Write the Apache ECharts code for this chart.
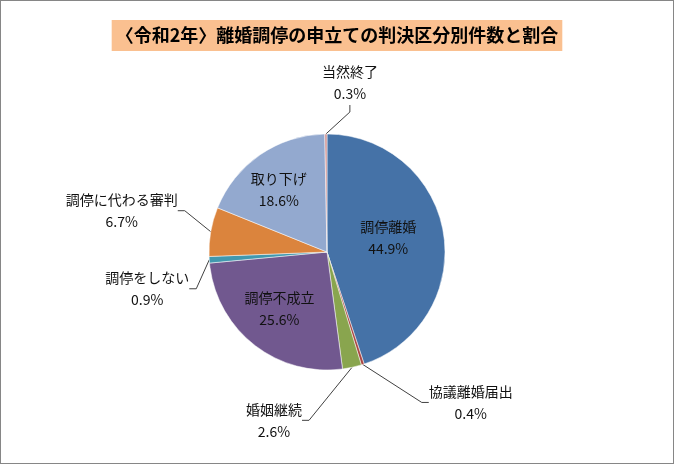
<!DOCTYPE html>
<html>
<head>
<meta charset="utf-8">
<script src="https://cdn.jsdelivr.net/npm/echarts@6/dist/echarts.min.js"></script>
<style>
  body { margin: 0; background: #fff; }
  #chart-root { width: 672px; height: 462px; border: 1px solid #868686; }
</style>
</head>
<body>
<div id="chart-root"></div>
<script>
// 判決区分 (12時から時計回り)
const categories = ['調停離婚', '協議離婚届出', '婚姻継続', '調停不成立', '調停をしない', '調停に代わる審判', '取り下げ', '当然終了']
// 割合 (%)
const shares = [44.9, 0.4, 2.6, 25.6, 0.9, 6.7, 18.6, 0.3]
const sliceColors = ['#4572A7', '#AA4643', '#89A54E', '#71588F', '#4198AF', '#DB843D', '#93A9CF', '#D19392']
const insideNames = ['調停離婚', '調停不成立', '取り下げ']

// ラベル位置の微調整 (外側: 扇形の縁からのずれ / 内側: 既定位置からのずれ)
const labelShift = {
  0: [0, -4],
  1: [108, 38],
  2: [-78, 53],
  3: [-9, 8],
  4: [-62, 29],
  5: [-89, -21],
  6: [-13, -11],
  7: [24, -51]
}

let chart = echarts.init(document.getElementById('chart-root'))

let option = {
  animation: false,
  title: {
    text: '〈令和2年〉離婚調停の申立ての判決区分別件数と割合',
    left: 'center',
    top: 19,
    padding: [5, 4],
    backgroundColor: '#FAC090',
    textStyle: {
      color: '#000',
      fontSize: 18,
      fontWeight: 'bold',
      lineHeight: 21,
      fontFamily: '"Noto Sans CJK JP", sans-serif'
    }
  },
  series: [
    {
      type: 'pie',
      center: [326, 251],
      radius: 118,
      startAngle: 90,
      clockwise: true,
      avoidLabelOverlap: false,
      itemStyle: {
        borderColor: '#fff',
        borderWidth: 0.5
      },
      label: {
        position: 'outside',
        color: '#111',
        fontSize: 14,
        lineHeight: 22,
        fontFamily: '"Noto Sans CJK JP", sans-serif',
        formatter: p => `${p.name}\n${p.value.toFixed(1)}%`
      },
      labelLine: {
        show: true,
        length: 15,
        length2: 7,
        lineStyle: {
          color: '#404040',
          width: 1
        }
      },
      labelLayout: params => {
        let off = labelShift[params.dataIndex]
        let pts = params.labelLinePoints
        if (!off) return
        if (pts) {
          return {
            x: pts[0][0] + off[0],
            y: pts[0][1] + off[1],
            align: 'center',
            verticalAlign: 'middle'
          }
        }
        return { dx: off[0], dy: off[1] }
      },
      data: categories.map((name, i) => ({
        name: name,
        value: shares[i],
        itemStyle: { color: sliceColors[i] },
        label: insideNames.includes(name) ? { position: 'inside' } : {},
        labelLine: insideNames.includes(name) ? { show: false } : {}
      }))
    }
  ]
}

chart.setOption(option)
</script>
</body>
</html>
